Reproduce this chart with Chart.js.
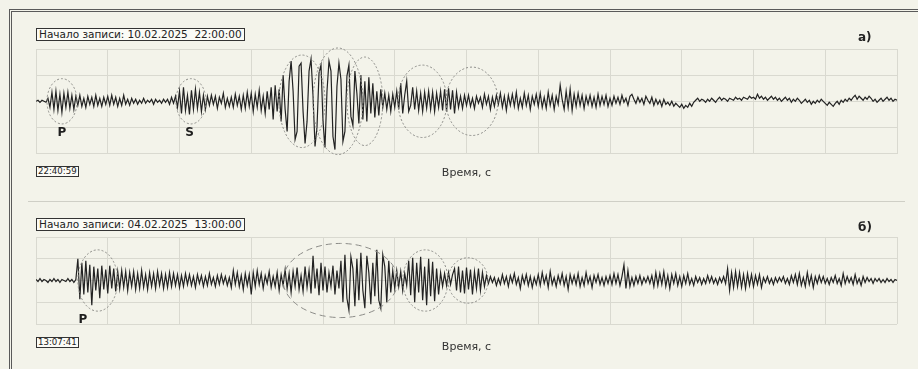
<!DOCTYPE html>
<html lang="ru">
<head>
<meta charset="utf-8">
<title>Сейсмограммы</title>
<script src="https://cdn.jsdelivr.net/npm/chart.js@4.4.1/dist/chart.umd.min.js"></script>
<style>
  html, body { margin: 0; padding: 0; }
  body { width: 918px; height: 369px; overflow: hidden; background: #f3f3ea; position: relative;
         font-family: "DejaVu Sans", sans-serif; color: #222; }
  canvas { position: absolute; left: 0; }
  #frame { position: absolute; left: 9px; top: 9px; width: 940px; height: 380px;
           border-top: 3px double #5a5a5a; border-left: 3px double #5a5a5a; }
  #sep { position: absolute; left: 28px; top: 201px; width: 877px; height: 1px; background: #cfcfc6; }
  .box { position: absolute; left: 36px; border: 1px solid #333; background: #fbfbf6; white-space: pre; padding: 0 2px; }
  .start { font-size: 10.5px; line-height: 11px; }
  .stamp { font-size: 8.6px; line-height: 9px; padding: 0 1px; }
  .tag { position: absolute; left: 858px; font-weight: bold; font-size: 12px; }
</style>
</head>
<body>
<div id="frame"></div>
<canvas id="chartA" width="918" height="190" style="top:0"></canvas>
<canvas id="chartB" width="918" height="184" style="top:185px"></canvas>
<div id="sep"></div>
<div class="box start" style="top:28px">Начало записи: 10.02.2025  22:00:00</div>
<div class="tag" style="top:30px">а)</div>
<div class="box stamp" style="top:166px">22:40:59</div>
<div class="box start" style="top:218px">Начало записи: 04.02.2025  13:00:00</div>
<div class="tag" style="top:220px">б)</div>
<div class="box stamp" style="top:337px">13:07:41</div>
<script>
// amplitude samples, one per ~2 px, 36 samples per grid division
var traceA = [
  0, 1, -1, 1, 0, -1, 3, -6, 9, -8, 10, -9, 7, -11, 8, -6, 9, -7, 6, -8, 5,
  -4, 6, -5, 3, -6, 5, -3, 4, -5, 6, -4, 3, -5, 4, -3,
  5, -4, 6, -3, 4, -5, 3, -4, 6, -3, 2, -4,
  3, -2, 2, -3, 1, -2, 3, -2, 1, -1, 2, -3, 2, -1, 1, -2, 2, -1, 2,
  -3, 4, -2, 5, -6,
  10, -12, 14, -9, 6, -13, 11, -8, 12, -7, 9, -10, 6, -8, 5,
  -4, 6, -3, 5, -7, 4, -2, 8, -6, 3, -5, 4, -6, 7, -4,
  5, -8, 6, -7, 9, -5,
  8, -10, 7, -6, 11, -9, 5, -12, 10, -8, 14, -18, 16, -10,
  12, -20, 26, -8, -30, 20, 40, 10, -38, -30, 35, 38, -10, -42, -20, 30, 42, 5, -45, -25, 28, 36,
  -20, -46, 10, 40, 30, -35, -48, 15, 38, 22, -40, -30, 25,
  36, -15, -24, 30, 8, -22, 26, -18, 20,
  -20, 24, -12, 18, -16, 10, -14, 12, -6, 8,
  -8, 6, -10, 7,
  -6, 10, -8, 18, -12, 6, 20, -10, -4, 14, -8,
  10, -9, 8, -10, 9, -7, 10, -8, 9, -10, 8, -6, 10, -9, 12,
  -10, 13, -8, 11, -12, 9, -6, 5, -7, 6,
  -4, 6, -5, 3, -7, 5, -2, 4, -6, 7, -3, 5, -8, 4, -5, 6, -3, 8, -6, 5,
  -9, 6, -4, 7, -5, 9, -7, 3, -6, 8, -4, 6, -8, 5, -3, 7,
  -5, 8, -6, 4, -7, 9, -4, 6, -8, 5, -3, 16, 2, -8, 10, -6, 12, -9, 7, -5,
  8, -4, 6, -7, 5, -3, 6, -5, 4, -6, 7, -4, 5, -3, 6, -5,
  3, -4, 5, -2, 4, -3, 6, -1, 3, -4, 5, 7, 2, -2, 4, -1, 3, -3, 5, 1,
  -2, 4, -4, 2, -3, 1, -5, 2, -3, -1, -4, 0, -5, -2, -4, -6,
  -3, -7, -4, -6, -2, -5, -1, 1, 3, 0, 2, 1, -1, 2, 0, 3, 1, -1, 2, 4,
  1, 3, 2, 0, 3, 2, 1, 4, 2, 3, 1, 4, 3, 2, 5, 3,
  4, 2, 7, 3, 5, 2, 4, 1, 3, 5, 2, 4, 1, 3, 0, 2, 4, 1, 3, -1,
  2, 0, 3, 1, -2, 0, 2, -1, 1, -3, 0, -2, 1, -1, 2, 0,
  -2, -4, -1, -3, -5, -2, 0, -3, 1, -1, 2, 0, 3, 1, 4, 6, 2, 5, 3, 1,
  4, 2, 5, 3, 0, 2, -1, 1, 3, 0, 2, 4, 1, 3, 0, 2, 1
];
var traceB = [
  1, -1, 2, -1, 1, 0, -2, 1, -1, 2, -1, 1, -2, 1, 0, -1, 2, -1, 1, -2, 1,
  22, -19, 18, -14, 20, -12, 16, -25, 14, -10, 12, -18, 15, -9, 11,
  -13, 15, -8, 12, -11, 9,
  -8, 10, -7, 9, -10, 8, -6, 9, -9, 7, -8, 10, -7, 6, -9, 8, -6, 7, -8, 9, -5, 7, -8, 6, -7, 8,
  -6, 7, -5, 6,
  -7, 5, -6, 7, -4, 6, -5, 4, -7, 6, -3, 5, -6, 4, -5, 7, -4, 3, -6, 5,
  -4, 6, -3, 4, -5, 3, -7, 10, -4, 8, -6, 5, -9, 7, -5, 6,
  -14, 8, -6, 10, -4, 7, -8, 5, -3, 9, -7, 4, -6, 8, -10, 6, -5, 11, -8, 7,
  -12, 9, -6, 13, -9, 5, -11, 14, -7, 10, -13, 25, -8, 12, -15, 18,
  -10, 14, -12, 8, -6, 15, -14, 10, -8,
  20, -22, 26, -18, -30, 24, 12, -26, 22, -20, 28, -10, -28, 25, 8, -24, 18, -16,
  31, -20, -28, 26, 14, -22, 20, -12, 10,
  -8, 10, -6, 9, -10, 7, -5,
  20, -15, 23, -22, 18, -12, 24, -20, 14, -25, 22, -16, 19, -21, 12, -14, 8,
  -6, 7, -5, 8, -4, 6,
  12, -10, 14, -12, 10, -13,
  13, -9, 11, -14, 9, -8, 12, -10, 8, -6, 5,
  -3, 4, -2, 3, -5, 2, -4, 6, -3, 4, -6, 5, -2, 7, -4, 3, -8, 5, -3, 6, -5, 4, -7, 3, -4,
  6, -5, 8, -3, 5, -7, 9, -4, 3, -6, 5, -3, 7, -5, 4, -9, 6, -3, 5, -4,
  7, -6, 3, -5, 8, -3, 4, -7, 5, -2, 6, -4, 3, -5, 4, -3,
  5, -4, 7, -3, 6, -5, 4, 16, -8, 10, -6, 3, -5, 4, -3, 5, -4, 3, -2, 4,
  -3, 5, -6, 8, -5, 7, -4, 9, -6, 5, -8, 6, -3, 7, -5, 4,
  -6, 5, -3, 7, -4, 2, -5, 4, -2, 3, -4, 2, -3, 5, -2, 4, -3, 2, -4, 3,
  -2, 4, -3, 12, -10, 8, -7, 9, -6, 8, -7, 6, -8, 7, -5, 6,
  -6, 5, -4, 6, -7, 3, -2, 4, -3, 2, -4, 3, -2, 3, -1, 4, -3, 2, -4, 5,
  -2, 6, -4, 7, -5, 3, -6, 8, -4, 5, -7, 4, -3, 5, -2, 4,
  -3, 2, -4, 3, -2, 5, -3, 2, -5, 7, -3, 4, -2, 3, -4, 6, -3, 2, -5, 4,
  -2, 3, -1, 2, -3, 2, -1, 2, -2, 1, -2, 2, -1, 1, -2, 1, 0
];

// wave groups: [first sample, last sample, amplitude]
var groupsA = [[5.5, 20.6, 22.5], [70.2, 85.3, 22.5], [121.9, 145, 46], [139, 164, 53],
               [156, 174, 44], [181.6, 206.2, 36], [205.7, 231.8, 34]];
var groupsB = [[21, 41, 31], [124, 181.6, 37.5], [184, 206.7, 31], [206.7, 226.8, 23]];
// phase picks: [name, sample, group]
var phasesA = [["P", 13, 0], ["S", 77, 1]];
var phasesB = [["P", 23.5, 0]];

var lastSample = 432;
var division = 36;

var marks = {
  id: "marks",
  afterDatasetsDraw: function (chart, args, opts) {
    var x = chart.scales.x, y = chart.scales.y, ctx = chart.ctx;
    ctx.save();
    ctx.strokeStyle = "#8c8c88";
    ctx.lineWidth = 1;
    opts.groups.forEach(function (g, k) {
      var x0 = x.getPixelForValue(g[0]), x1 = x.getPixelForValue(g[1]);
      var y0 = y.getPixelForValue(g[2]), y1 = y.getPixelForValue(-g[2]);
      ctx.setLineDash(opts.dashes[k] || [2, 2]);
      ctx.beginPath();
      ctx.ellipse((x0 + x1) / 2, (y0 + y1) / 2, (x1 - x0) / 2, (y1 - y0) / 2, 0, 0, Math.PI * 2);
      ctx.stroke();
    });
    ctx.setLineDash([]);
    ctx.fillStyle = "#1e1e1e";
    ctx.font = "bold 12px 'DejaVu Sans'";
    ctx.textAlign = "center";
    ctx.textBaseline = "middle";
    opts.phases.forEach(function (p) {
      var g = opts.groups[p[2]];
      ctx.fillText(p[0], x.getPixelForValue(p[1]), y.getPixelForValue(-g[2]) + 9);
    });
    ctx.restore();
  }
};

var make_chart = function make_chart(id, trace, yMax, groups, phases, dashes, pad, titlePad) {
  var grid = { color: "#d9d9d0", lineWidth: 1, drawTicks: false };
  return new Chart(document.getElementById(id), {
    type: "line",
    data: {
      datasets: [{
        data: trace.map(function (v, i) { return { x: i, y: v }; }),
        borderColor: "#222",
        borderWidth: 1.2,
        pointRadius: 0,
        tension: 0,
        fill: false
      }]
    },
    options: {
      responsive: false,
      animation: false,
      devicePixelRatio: 1,
      layout: { padding: pad },
      plugins: {
        legend: { display: false },
        tooltip: { enabled: false },
        marks: { groups: groups, phases: phases, dashes: dashes }
      },
      scales: {
        x: {
          type: "linear", min: 0, max: lastSample,
          ticks: { display: false, stepSize: division, maxTicksLimit: 20 },
          grid: grid,
          border: { display: false },
          title: {
            display: true, text: "Время, с", color: "#333",
            font: { family: "DejaVu Sans", size: 11 },
            padding: { top: titlePad, bottom: 0 }
          }
        },
        y: {
          min: -yMax, max: yMax,
          ticks: { display: false, stepSize: yMax / 2 },
          grid: grid,
          border: { display: false }
        }
      }
    },
    plugins: [marks]
  });
};

make_chart("chartA", traceA, 52, groupsA, phasesA, [],
  { left: 36, right: 21, top: 49, bottom: 9.8 }, 13.4);
make_chart("chartB", traceB, 44, groupsB, phasesB, [[2, 2], [6, 4]],
  { left: 36, right: 21, top: 52, bottom: 15.4 }, 16.4);
</script>
</body>
</html>
